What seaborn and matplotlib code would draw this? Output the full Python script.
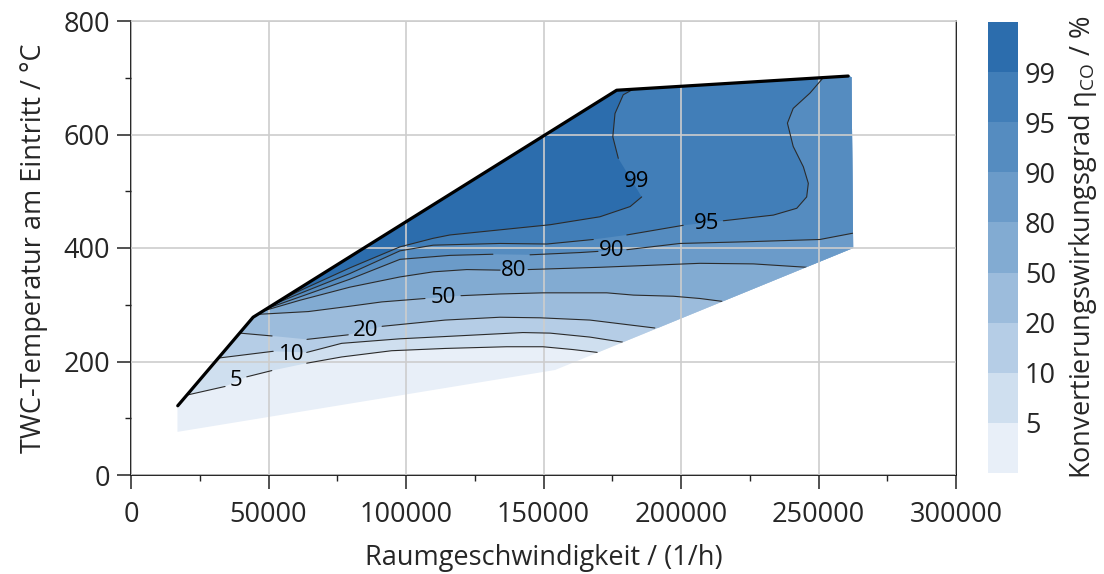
import numpy as np
import matplotlib
matplotlib.use("Agg")
import matplotlib.pyplot as plt
from matplotlib.colors import ListedColormap, BoundaryNorm
from matplotlib.cm import ScalarMappable
from matplotlib.patches import Polygon
from matplotlib.ticker import MultipleLocator, FormatStrFormatter
import seaborn as sns

nan = np.nan

# measured operating range (space velocity in 1/h, inlet temperature in degC)
domain_x = [16900, 16900, 44400, 176600, 260800, 262000, 262600, 154200]
domain_y = [76, 122, 278, 678, 703, 701, 400, 185]

# upper limit of the operating range (thick black line)
limit_x = [17000, 44400, 176600, 260800]
limit_y = [122, 278, 678, 703]

levels = [5, 10, 20, 50, 80, 90, 95, 99]
band_colors = ['#e8eff8', '#cfdfef', '#b5cde6', '#9cbcdc', '#82abd2',
               '#6b9bc9', '#558cc0', '#417eb8', '#2c6dad']

# iso-lines of CO conversion, nan = gap under a label
c5_x = [20500, 34200, nan, 42100, 51200, nan, 63900, 76600, 94800, 114200, 136600, 149800, 160800, 169600]
c5_y = [141, 156, nan, 173, 184, nan, 197, 208, 219, 223, 226, 226, 221, 216]

c10_x = [31700, 51700, nan, 63900, 76600, 97800, 114200, 142500, 152400, 166900, 178800]
c10_y = [206, 218, nan, 216, 232, 240, 244, 251, 250, 243, 234]

c20_x = [39600, 51300, nan, 64000, 79000, nan, 91300, 114200, 134200, 148700, 166900, 190500]
c20_y = [250, 245, nan, 239, 247, nan, 262, 273, 278, 277, 273, 259]

c50_x = [45800, 64500, 79000, 91200, 106900, nan, 120000, 134200, 149900, 173000, 182700, 197200, 206900, 214900]
c50_y = [283, 288, 297, 305, 311, nan, 316, 319, 321, 321, 317, 315, 311, 306]

c80_x = [48000, 61500, 79600, 97800, 109900, 122100, 134200, nan, 144400, 170500, 206900, 226300, 245700]
c80_y = [289, 308, 331, 349, 358, 362, 361, nan, 362, 366, 373, 372, 366]

c90_x = [49800, 61500, 79600, 97800, 116000, 131600, nan, 145100, 163300, 169800, nan,
         180300, 199600, 223900, 250500, 262400]
c90_y = [294, 314, 345, 380, 387, 389, nan, 388, 392, 394, nan, 397, 408, 411, 415, 426]

c95_x = [51500, 61500, 79600, 97800, 109900, 134200, 151200, 168100, nan, 180300, 200800, nan,
         215400, 233600, 242100, 245700, 246300, 244500, 240800, 238700, 240800, 246900, 251700]
c95_y = [300, 320, 355, 395, 405, 408, 407, 415, nan, 423, 440, nan,
         448, 458, 470, 490, 514, 543, 579, 620, 646, 673, 700]

c99_x = [53300, 61500, 79600, 97800, 109800, 116000, 134200, 152400, 170500, 181500, 185700, nan,
         177200, 175200, 176000, 179000, 182700]
c99_y = [305, 325, 365, 402, 417, 423, 432, 441, 455, 473, 490, nan, 558, 596, 637, 670, 680]

contours_x = [c5_x, c10_x, c20_x, c50_x, c80_x, c90_x, c95_x, c99_x]
contours_y = [c5_y, c10_y, c20_y, c50_y, c80_y, c90_y, c95_y, c99_y]

# label positions
label_x = [38200, 58400, 85300, 113600, 139000, 174800, 209300, 183900]
label_y = [166, 213, 255, 313, 361, 395, 444, 518]

sns.set_theme(style="white")
plt.rcParams['font.family'] = ['Open Sans', 'DejaVu Sans']
plt.rcParams['mathtext.fontset'] = 'custom'
plt.rcParams['mathtext.rm'] = 'Open Sans'

fs = 19.5
fig = plt.figure(figsize=(11.04, 5.74), dpi=100)
ax = fig.add_axes([131 / 1104, 99 / 574, 825 / 1104, 454 / 574])
cax = fig.add_axes([988 / 1104, 101 / 574, 30 / 1104, 451 / 574])

# clip everything to the measured range
dom = Polygon(np.column_stack([domain_x, domain_y]), closed=True,
              facecolor=band_colors[0], edgecolor='none', zorder=1)
ax.add_patch(dom)

far_x, far_y = 10 ** 6, 5000
for i, (cx, cy) in enumerate(zip(contours_x, contours_y)):
    px = np.array(cx, dtype=float)
    py = np.array(cy, dtype=float)
    keep = ~np.isnan(px)
    px, py = list(px[keep]), list(py[keep])
    if py[-1] > 600:
        # line ends on the upper limit -> region lies to the upper left
        px += [px[-1], -far_x, -far_x]
        py += [far_y, far_y, py[0]]
    else:
        px += [far_x, far_x, -far_x, -far_x]
        py += [py[-1], far_y, far_y, py[0]]
    patch = ax.fill(px, py, color=band_colors[i + 1], lw=0, zorder=1.2 + i * 0.01)[0]
    patch.set_clip_path(dom)

for cx, cy in zip(contours_x, contours_y):
    ln, = ax.plot(cx, cy, color='#2b2b2b', lw=0.8, zorder=3)
    ln.set_clip_path(dom)

for lx, ly, lv in zip(label_x, label_y, levels):
    ax.text(lx, ly, str(lv), ha='center', va='center', fontsize=16, color='black', zorder=5)

sns.lineplot(x=limit_x, y=limit_y, sort=False, estimator=None, color='black',
             lw=2.3, ax=ax, zorder=4)

ax.set_xlim(0, 300000)
ax.set_ylim(0, 800)
ax.xaxis.set_major_locator(MultipleLocator(50000))
ax.xaxis.set_minor_locator(MultipleLocator(25000))
ax.yaxis.set_major_locator(MultipleLocator(200))
ax.yaxis.set_minor_locator(MultipleLocator(100))
ax.xaxis.set_major_formatter(FormatStrFormatter('%d'))
ax.yaxis.set_major_formatter(FormatStrFormatter('%d'))

ax.set_axisbelow(False)
ax.grid(True, which='major', color='#cdcdcd', lw=1.2)
ax.tick_params(which='major', direction='out', length=10, width=1.1, color='#222222',
               labelsize=fs, pad=5, bottom=True, left=True)
ax.tick_params(axis='x', which='major', pad=8.5)
ax.tick_params(which='minor', direction='out', length=4.5, width=1.0, color='#222222',
               bottom=True, left=True)
for side in ['left', 'bottom', 'right']:
    ax.spines[side].set_color('black')
    ax.spines[side].set_linewidth(1.2)
ax.spines['top'].set_color('#cdcdcd')
ax.spines['top'].set_linewidth(1.2)

ax.set_xlabel('Raumgeschwindigkeit / (1/h)', fontsize=fs, labelpad=11)
ax.set_ylabel('TWC-Temperatur am Eintritt / °C', fontsize=fs, labelpad=11)

# discrete colour bar with equal band heights
cmap = ListedColormap(band_colors)
norm = BoundaryNorm(np.arange(10), cmap.N)
cb = fig.colorbar(ScalarMappable(norm=norm, cmap=cmap), cax=cax, ticks=np.arange(1, 9))
cb.set_ticklabels([str(v) for v in levels])
cb.outline.set_visible(False)
cax.minorticks_off()
cax.tick_params(which='both', length=0, labelsize=fs, pad=5)
cb.set_label('Konvertierungswirkungsgrad η$_\\mathregular{CO}$ / %', fontsize=fs, labelpad=8)

fig.savefig('out.png', dpi=100)
